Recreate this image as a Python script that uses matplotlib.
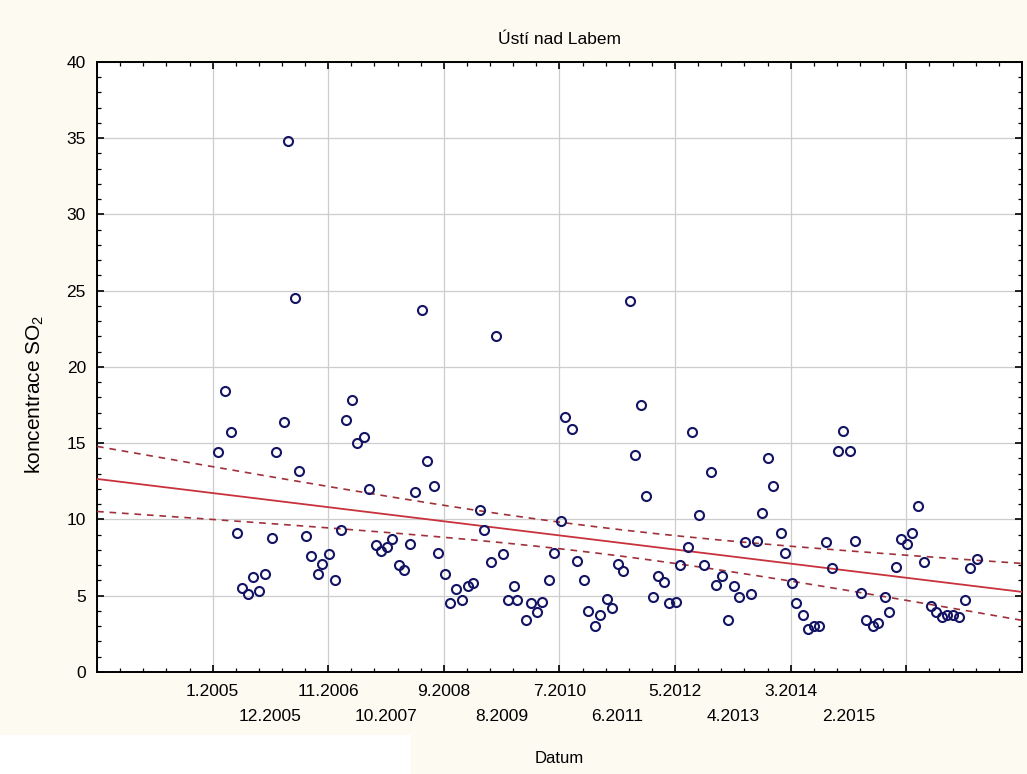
import matplotlib
matplotlib.use("Agg")
import matplotlib.pyplot as plt
import numpy as np
from matplotlib.ticker import MultipleLocator, FixedLocator
from matplotlib.patches import Rectangle
import matplotlib.transforms as mtransforms

# monthly SO2 concentration, Usti nad Labem; x = months since 1.2005
months = [1.1, 2.4, 3.4, 4.6, 5.5, 6.8, 7.7, 8.9, 9.9, 11.2,
          12.1, 13.5, 14.4, 15.7, 16.5, 17.8, 18.7, 20.0, 20.9, 22.2,
          23.2, 24.4, 25.3, 26.6, 27.5, 28.8, 29.8, 31.0, 32.0, 33.2,
          34.1, 35.4, 36.4, 37.6, 38.6, 39.8, 40.7, 42.1, 42.9, 44.2,
          45.2, 46.4, 47.4, 48.5, 49.5, 50.8, 51.7, 53.0, 53.9, 55.2,
          56.2, 57.3, 58.0, 59.6, 60.6, 61.8, 62.7, 64.0, 65.0, 66.2,
          67.1, 68.4, 69.3, 70.6, 71.5, 72.8, 73.7, 75.0, 76.0, 77.2,
          78.1, 79.4, 80.3, 81.6, 82.5, 83.8, 84.7, 85.9, 86.9, 88.2,
          89.0, 90.5, 91.3, 92.6, 93.6, 94.8, 95.8, 97.0, 98.0, 99.3,
          100.2, 101.4, 102.4, 103.6, 104.6, 105.7, 106.7, 108.1, 109.0, 110.2,
          111.1, 112.4, 113.3, 114.5, 115.4, 116.8, 117.8, 119.1, 119.9, 121.3,
          122.2, 123.4, 124.4, 125.6, 126.7, 127.9, 128.8, 130.0, 131.0, 132.2,
          133.1, 134.3, 135.4, 136.7, 137.6, 138.8, 139.8, 140.8, 142.0, 143.2,
          144.2, 145.4]
so2 = [14.4, 18.4, 15.7, 9.1, 5.5, 5.1, 6.2, 5.3, 6.4, 8.8,
       14.4, 16.4, 34.8, 24.5, 13.2, 8.9, 7.6, 6.4, 7.1, 7.7,
       6.0, 9.3, 16.5, 17.8, 15.0, 15.4, 12.0, 8.3, 7.9, 8.2,
       8.7, 7.0, 6.7, 8.4, 11.8, 23.7, 13.8, 12.2, 7.8, 6.4,
       4.5, 5.4, 4.7, 5.6, 5.8, 10.6, 9.3, 7.2, 22.0, 7.7,
       4.7, 5.6, 4.7, 3.4, 4.5, 3.9, 4.6, 6.0, 7.8, 9.9,
       16.7, 15.9, 7.3, 6.0, 4.0, 3.0, 3.7, 4.8, 4.2, 7.1,
       6.6, 24.3, 14.2, 17.5, 11.5, 4.9, 6.3, 5.9, 4.5, 4.6,
       7.0, 8.2, 15.7, 10.3, 7.0, 13.1, 5.7, 6.3, 3.4, 5.6,
       4.9, 8.5, 5.1, 8.6, 10.4, 14.0, 12.2, 9.1, 7.8, 5.8,
       4.5, 3.7, 2.8, 3.0, 3.0, 8.5, 6.8, 14.5, 15.8, 14.5,
       8.6, 5.2, 3.4, 3.0, 3.2, 4.9, 3.9, 6.9, 8.7, 8.4,
       9.1, 10.9, 7.2, 4.3, 3.9, 3.6, 3.7, 3.7, 3.6, 4.7,
       6.8, 7.4]

label_pos_top = [0, 22, 44, 66, 88, 110]
label_txt_top = ["1.2005", "11.2006", "9.2008", "7.2010", "5.2012", "3.2014"]
label_pos_bot = [11, 33, 55, 77, 99, 121]
label_txt_bot = ["12.2005", "10.2007", "8.2009", "6.2011", "4.2013", "2.2015"]

x = np.array(months)
y = np.array(so2)

# linear fit with 95% confidence band
n = len(x)
b, a = np.polyfit(x, y, 1)
resid = y - (a + b * x)
s = np.sqrt(np.sum(resid ** 2) / (n - 2))
sxx = np.sum((x - x.mean()) ** 2)
t95 = 1.978
xf = np.linspace(-22, 154, 300)
yf = a + b * xf
half = t95 * s * np.sqrt(1.0 / n + (xf - x.mean()) ** 2 / sxx)

plt.rcParams['font.family'] = ['Liberation Sans', 'DejaVu Sans']

fig = plt.figure(figsize=(10.27, 7.74), dpi=100, facecolor='#fdfaf1')
fig.patches.append(Rectangle((0, 0), 0.40, 0.05, transform=fig.transFigure,
                             facecolor='white', edgecolor='none', zorder=0))
ax = fig.add_axes([0.0945, 0.132, 0.9005, 0.788])
ax.set_facecolor('white')

ax.plot(xf, yf, color='#c8323c', lw=1.3, zorder=3)
ax.plot(xf, yf + half, color='#a0303a', lw=1.2, ls=(0, (4, 3.5)), zorder=3)
ax.plot(xf, yf - half, color='#a0303a', lw=1.2, ls=(0, (4, 3.5)), zorder=3)
ax.plot(x, y, 'o', mfc='none', mec='#141464', ms=6.5, mew=1.5, zorder=4)

ax.set_xlim(-22, 154)
ax.set_ylim(0, 40)

ax.xaxis.set_major_locator(FixedLocator([-22, 0, 22, 44, 66, 88, 110, 132, 154]))
ax.xaxis.set_minor_locator(MultipleLocator(4.4))
ax.set_xticklabels([""] + label_txt_top + ["", ""])
ax.yaxis.set_major_locator(MultipleLocator(5))
ax.yaxis.set_minor_locator(MultipleLocator(1))

ax.grid(True, which='major', color='#cdcdcd', lw=0.9)
ax.set_axisbelow(True)
ax.tick_params(which='both', direction='in', top=True, right=True, colors='black',
               labelsize=12.5)
ax.tick_params(which='major', length=5, width=1.2)
ax.tick_params(which='minor', length=3, width=0.9)
ax.tick_params(axis='x', which='major', pad=9)
ax.tick_params(axis='y', which='major', pad=8)
for sp in ax.spines.values():
    sp.set_linewidth(1.4)

trans = mtransforms.blended_transform_factory(ax.transData, ax.transAxes)
for p, t in zip(label_pos_bot, label_txt_bot):
    ax.text(p, -0.073, t, transform=trans, ha='center', va='center', fontsize=12.5)

ax.set_title("Ústí nad Labem", fontsize=12.5, pad=13)
ax.set_ylabel(r"koncentrace SO$_{\mathregular{2}}$", fontsize=15, va='center')
ax.yaxis.set_label_coords(-0.067, 0.455)
ax.set_xlabel("Datum", fontsize=12, labelpad=37)

fig.savefig("out.png", dpi=100, facecolor=fig.get_facecolor())
